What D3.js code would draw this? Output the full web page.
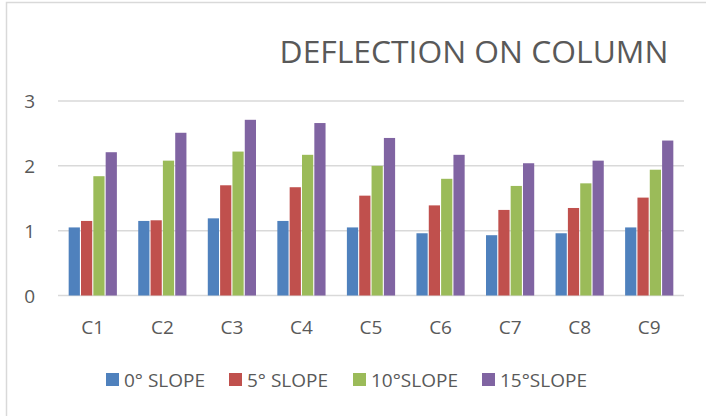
<!DOCTYPE html>
<html>
<head>
<meta charset="utf-8">
<script src="https://cdn.jsdelivr.net/npm/d3@7"></script>
<style>
  html, body { margin: 0; padding: 0; background: #fff; }
  svg { display: block; }
  text { font-family: "Open Sans", "DejaVu Sans", sans-serif; fill: #595959; }
</style>
</head>
<body>
<svg id="chart" width="706" height="416"></svg>
<script>
const categories = ["C1", "C2", "C3", "C4", "C5", "C6", "C7", "C8", "C9"];
const seriesNames = ["0° SLOPE", "5° SLOPE", "10°SLOPE", "15°SLOPE"];
const slope0  = [1.05, 1.15, 1.19, 1.15, 1.05, 0.96, 0.93, 0.96, 1.05];
const slope5  = [1.15, 1.16, 1.70, 1.67, 1.54, 1.39, 1.32, 1.35, 1.51];
const slope10 = [1.84, 2.08, 2.22, 2.17, 2.00, 1.80, 1.69, 1.73, 1.94];
const slope15 = [2.21, 2.51, 2.71, 2.66, 2.43, 2.17, 2.04, 2.08, 2.39];
const yTicks = [0, 1, 2, 3];
const colors = ["#4F81BD", "#C0504D", "#9BBB59", "#8064A2"];
const titleText = "DEFLECTION ON COLUMN";

const seriesValues = [slope0, slope5, slope10, slope15];
const svg = d3.select("#chart");

// chart frame (cropped border on left/top)
svg.append("rect").attr("x", 6.5).attr("y", 2.5).attr("width", 740).attr("height", 440)
  .attr("fill", "none").attr("stroke", "#D9D9D9").attr("stroke-width", 1.5);

const plot = { left: 58, right: 684, top: 101, bottom: 295.5 };

const x0 = d3.scaleBand().domain(categories).range([plot.left, plot.right]).paddingInner(0.275).paddingOuter(0.1375);
const x1 = d3.scaleBand().domain(d3.range(seriesNames.length)).range([0, x0.bandwidth()]).padding(0.09);
const y = d3.scaleLinear().domain([0, 3]).range([plot.bottom, plot.top]);

// gridlines
svg.append("g").selectAll("line").data(yTicks).join("line")
  .attr("x1", plot.left).attr("x2", plot.right)
  .attr("y1", d => y(d)).attr("y2", d => y(d))
  .attr("stroke", "#D9D9D9").attr("stroke-width", 1.5);

// y axis labels
const yAxis = d3.axisLeft(y).tickValues(yTicks).tickSize(0).tickPadding(0).tickFormat(d3.format("d"));
const yg = svg.append("g").attr("transform", `translate(35,0)`).call(yAxis);
yg.select(".domain").remove();
yg.selectAll("text").style("font-size", "19px").attr("fill", "#595959").attr("dy", "0.35em");

// bars
const groups = svg.append("g").selectAll("g").data(categories).join("g")
  .attr("transform", d => `translate(${x0(d)},0)`);
groups.selectAll("rect").data((c, ci) => seriesValues.map((vals, si) => ({ si, v: vals[ci] })))
  .join("rect")
  .attr("x", d => x1(d.si))
  .attr("width", x1.bandwidth())
  .attr("y", d => y(d.v))
  .attr("height", d => y(0) - y(d.v))
  .attr("fill", d => colors[d.si]);

// x axis labels
const xAxis = d3.axisBottom(x0).tickSize(0).tickPadding(0);
const xg = svg.append("g").attr("transform", `translate(0,${plot.bottom})`).call(xAxis);
xg.select(".domain").remove();
xg.selectAll("text").style("font-size", "19px").attr("fill", "#595959").attr("y", 38).attr("dy", 0);

// title
svg.append("text").attr("x", 474).attr("y", 63).attr("text-anchor", "middle")
  .style("font-size", "31.8px").text(titleText);

// legend
const legendX = [106, 229, 353, 482];
const lg = svg.append("g").selectAll("g").data(seriesNames).join("g")
  .attr("transform", (d, i) => `translate(${legendX[i]},373)`);
lg.append("rect").attr("width", 13).attr("height", 13).attr("fill", (d, i) => colors[i]);
lg.append("text").attr("x", 18).attr("y", 14).style("font-size", "19px").text(d => d);
</script>
</body>
</html>
